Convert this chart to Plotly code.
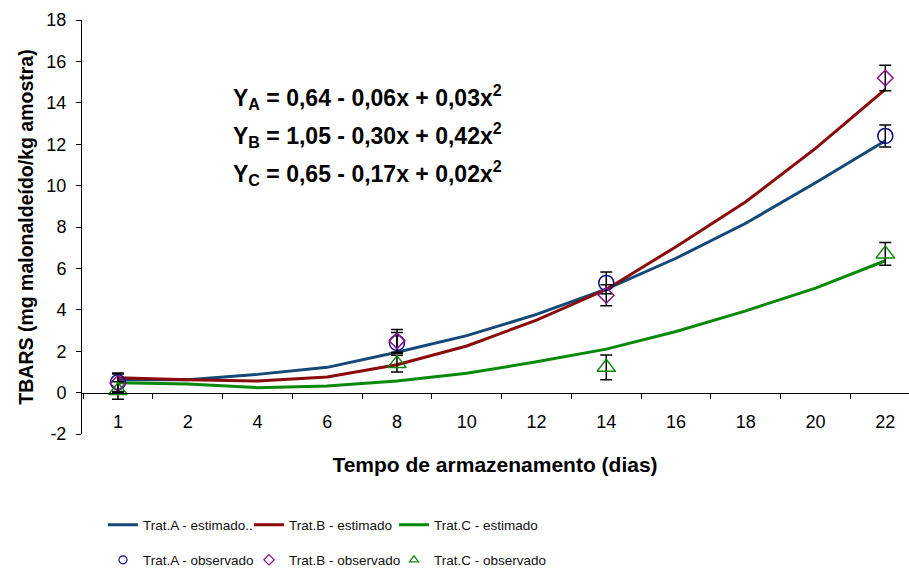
import plotly.graph_objects as go

# Storage time (days), categorical axis
dias = ["1", "2", "4", "6", "8", "10", "12", "14", "16", "18", "20", "22"]

# Estimated curves (fitted models)
est_a = [0.62, 0.62, 0.88, 1.22, 1.95, 2.75, 3.78, 5.00, 6.49, 8.18, 10.14, 12.17]
est_b = [0.72, 0.62, 0.56, 0.75, 1.35, 2.25, 3.50, 4.98, 7.05, 9.22, 11.80, 14.65]
est_c = [0.48, 0.42, 0.24, 0.32, 0.56, 0.93, 1.49, 2.10, 2.95, 3.95, 5.05, 6.37]

# Observed means and standard errors
dias_obs = ["1", "8", "14", "22"]
obs_a = [0.50, 2.40, 5.30, 12.40]
err_a = [0.45, 0.50, 0.53, 0.53]
obs_b = [0.45, 2.50, 4.70, 15.20]
err_b = [0.45, 0.55, 0.51, 0.62]
obs_c = [0.10, 1.40, 1.22, 6.70]
err_c = [0.42, 0.40, 0.60, 0.55]

y_ticks = [-2, 0, 2, 4, 6, 8, 10, 12, 14, 16, 18]
y_tick_text = ["-2", "0", "2", "4", "6", "8", "10", "12", "14", "16", "18"]

equations = [
    "Y<sub>A</sub> = 0,64 - 0,06x + 0,03x<sup>2</sup>",
    "Y<sub>B</sub> = 1,05 - 0,30x + 0,42x<sup>2</sup>",
    "Y<sub>C</sub> = 0,65 - 0,17x + 0,02x<sup>2</sup>",
]

col_a_line, col_b_line, col_c_line = "#134878", "#8b0a0a", "#0a880a"
col_a_obs, col_b_obs, col_c_obs = "#0a0a8c", "#8a128a", "#0a880a"

W, H = 909, 568
L, R, T, B = 81, 0, 20, 134
PW, PH = W - L - R, H - T - B

# legend grid: three columns, two rows (pixel positions in the page)
LEG_COLS = [103, 249, 394]
LEG_ROWS = [525, 560]


def px_x(px):
    return (px - L) / PW


def px_y(py):
    return (H - B - py) / PH


fig = go.Figure()
legends = {}


def legend_slot(key, col, row):
    legends[key] = dict(
        orientation="h", xref="container", yref="container",
        x=LEG_COLS[col] / W, y=1 - LEG_ROWS[row] / H,
        xanchor="left", yanchor="middle",
        font=dict(family="Arial, Liberation Sans, sans-serif", size=13.5, color="#111111"),
        bgcolor="rgba(0,0,0,0)",
    )


for i, (name, vals, col) in enumerate([
    ("Trat.A - estimado..", est_a, col_a_line),
    ("Trat.B - estimado", est_b, col_b_line),
    ("Trat.C - estimado", est_c, col_c_line),
]):
    key = "legend" if i == 0 else f"legend{i + 1}"
    legend_slot(key, i, 0)
    fig.add_trace(go.Scatter(
        x=dias, y=vals, mode="lines", name=name,
        line=dict(color=col, width=3), legend=key,
    ))

for i, (name, vals, errs, col, sym, size) in enumerate([
    ("Trat.A - observado", obs_a, err_a, col_a_obs, "circle-open", 15),
    ("Trat.B - observado", obs_b, err_b, col_b_obs, "diamond-open", 12),
    ("Trat.C - observado", obs_c, err_c, col_c_obs, "triangle-up-open", 16),
]):
    key = f"legend{i + 4}"
    legend_slot(key, i, 1)
    fig.add_trace(go.Scatter(
        x=dias_obs, y=vals, mode="markers", name=name, showlegend=False,
        marker=dict(symbol=sym, size=size, color=col, line=dict(color=col, width=1.5)),
        error_y=dict(type="data", array=errs, visible=True,
                     color="black", thickness=1.5, width=6),
    ))
    # small legend key for the observed series
    fig.add_trace(go.Scatter(
        x=[None], y=[None], mode="markers", name=name, legend=key,
        marker=dict(symbol=sym, size=8, color=col, line=dict(color=col, width=1.2)),
    ))

for i, eq in enumerate(equations):
    fig.add_annotation(
        x=px_x(231), y=px_y(97 + 38 * i), xref="paper", yref="paper",
        xanchor="left", yanchor="middle", showarrow=False, text=eq,
        font=dict(family="Arial, Liberation Sans, sans-serif", size=23, color="black", weight="bold"),
    )

fig.update_layout(
    width=W, height=H,
    margin=dict(l=L, r=R, t=T, b=B, autoexpand=False),
    plot_bgcolor="white", paper_bgcolor="white",
    font=dict(family="Arial, Liberation Sans, sans-serif", color="black"),
    xaxis=dict(
        type="category", categoryorder="array", categoryarray=dias,
        range=[-0.53, 11.34],
        anchor="free", position=0.1,
        showline=True, linecolor="black", linewidth=1,
        ticks="outside", ticklen=5, tickcolor="black", tickson="boundaries",
        showgrid=False, zeroline=False,
        tickfont=dict(size=18, color="black"), ticklabelstandoff=13,
        title=dict(text="Tempo de armazenamento (dias)", standoff=26,
                   font=dict(size=21, color="black", weight="bold")),
    ),
    yaxis=dict(
        range=[-2, 18], tickvals=y_ticks, ticktext=y_tick_text,
        anchor="free", position=0,
        showline=True, linecolor="black", linewidth=1,
        ticks="outside", ticklen=5, tickcolor="black",
        showgrid=False, zeroline=False,
        tickfont=dict(size=18, color="black"), ticklabelstandoff=6,
        title=dict(text="TBARS (mg malonaldeído/kg amostra)", standoff=6,
                   font=dict(size=19.5, color="black", weight="bold")),
    ),
    **legends,
)

fig.write_html("out.html")
